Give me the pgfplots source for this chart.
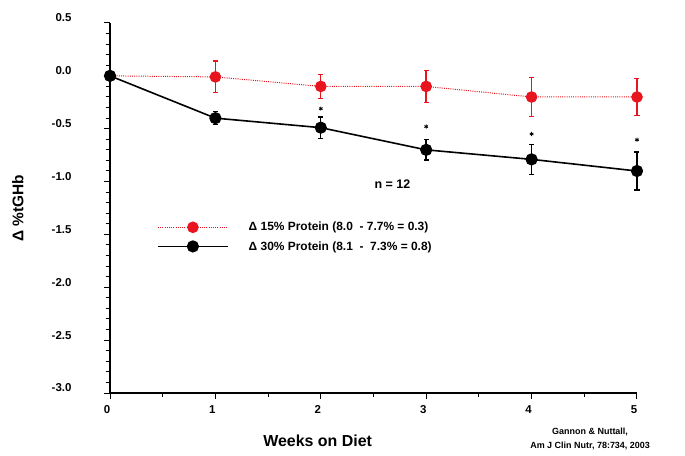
\documentclass[border=0pt]{standalone}
\usepackage{fontspec}
\setmainfont{Liberation Sans}
\usepackage{pgfplots}
\usepackage{pgfplotstable}
\pgfplotsset{compat=1.18}
\definecolor{myred}{RGB}{232,20,30}
\pgfplotstableread{
x y e
0 0.00 0
1 -0.01 0.15
2 -0.10 0.115
3 -0.10 0.15
4 -0.20 0.185
5 -0.20 0.175
}\lowprot
\pgfplotstableread{
x y e
0 0.00 0
1 -0.40 0.06
2 -0.49 0.10
3 -0.70 0.095
4 -0.79 0.14
5 -0.90 0.18
}\highprot
\begin{document}
\begin{tikzpicture}
\path[use as bounding box] (0,0) rectangle (685bp,456bp);
\begin{axis}[
  at={(110bp,63bp)}, anchor=south west,
  scale only axis, width=527bp, height=370bp,
  xmin=0, xmax=5, ymin=-3, ymax=0.5,
  axis lines*=left,
  axis line style={line width=1.1bp},
  clip=false,
  xtick={0,1,2,3,4,5}, minor xtick={0.5,1.5,2.5,3.5,4.5},
  ytick={-3,-2.5,-2,-1.5,-1,-0.5,0,0.5}, minor y tick num=4,
  tick align=outside,
  major tick length=6bp, minor tick length=3.5bp,
  every tick/.style={black, line width=1bp},
  /pgf/number format/assume math mode=true,
  ticklabel style={font=\fontsize{11.5}{13}\selectfont\bfseries},
  yticklabel style={/pgf/number format/.cd, fixed, fixed zerofill, precision=1, /tikz/.cd, xshift=-29bp, yshift=5bp},
  xticklabel style={xshift=-3bp, yshift=-3bp},
  xlabel={Weeks on Diet},
  xlabel style={at={(axis description cs:0.394,-0.13)}, anchor=center, font=\fontsize{16}{19}\selectfont\bfseries},
  ylabel={Δ \%tGHb},
  ylabel style={at={(axis description cs:-0.175,0.5)}, anchor=center, font=\fontsize{15.5}{18}\selectfont\bfseries},
  legend image code/.code={\draw[mark repeat=2,mark phase=2,#1] plot coordinates {(0bp,0bp) (35bp,0bp) (70bp,0bp)};},
  legend style={draw=none, fill=none, at={(axis description cs:0.089,0.422)}, anchor=west,
    font=\fontsize{12}{14}\selectfont\bfseries, row sep=5bp, cells={anchor=west},
    /tikz/every odd column/.append style={column sep=18bp}, inner sep=0pt},
]
\addplot[myred, dash pattern=on 1bp off 1.2bp, line width=1bp,
  mark=*, mark size=5.3bp, mark options={solid, fill=myred, draw=myred},
  error bars/.cd, y dir=both, y explicit,
  error bar style={solid, line width=1.4bp, myred},
  error mark options={rotate=90, mark size=2.5bp, line width=1.2bp, myred, solid}]
  table[x=x, y=y, y error=e] {\lowprot};
\addlegendentry{Δ 15\% Protein (8.0\ \ - 7.7\% = 0.3)}
\addplot[black, line width=1.6bp,
  mark=*, mark size=5.3bp, mark options={solid, fill=black},
  error bars/.cd, y dir=both, y explicit,
  error bar style={solid, line width=1.4bp, black},
  error mark options={rotate=90, mark size=2.5bp, line width=1.2bp, black}]
  table[x=x, y=y, y error=e] {\highprot};
\addlegendentry{Δ 30\% Protein (8.1\ \ -\ \ 7.3\% = 0.8)}
\addplot[only marks, mark=asterisk, mark size=2.1bp, line width=0.8bp, black, forget plot]
  coordinates {(2,-0.31) (3,-0.48) (4,-0.55) (5,-0.605)};
\node[font=\fontsize{12.5}{14}\selectfont\bfseries] at (axis cs:2.68,-1.02) {n = 12};
\node[align=center, font=\fontsize{9}{14}\selectfont\bfseries] at (axis description cs:0.911,-0.124) {Gannon \& Nuttall,\\Am J Clin Nutr, 78:734, 2003};
\end{axis}
\end{tikzpicture}
\end{document}
